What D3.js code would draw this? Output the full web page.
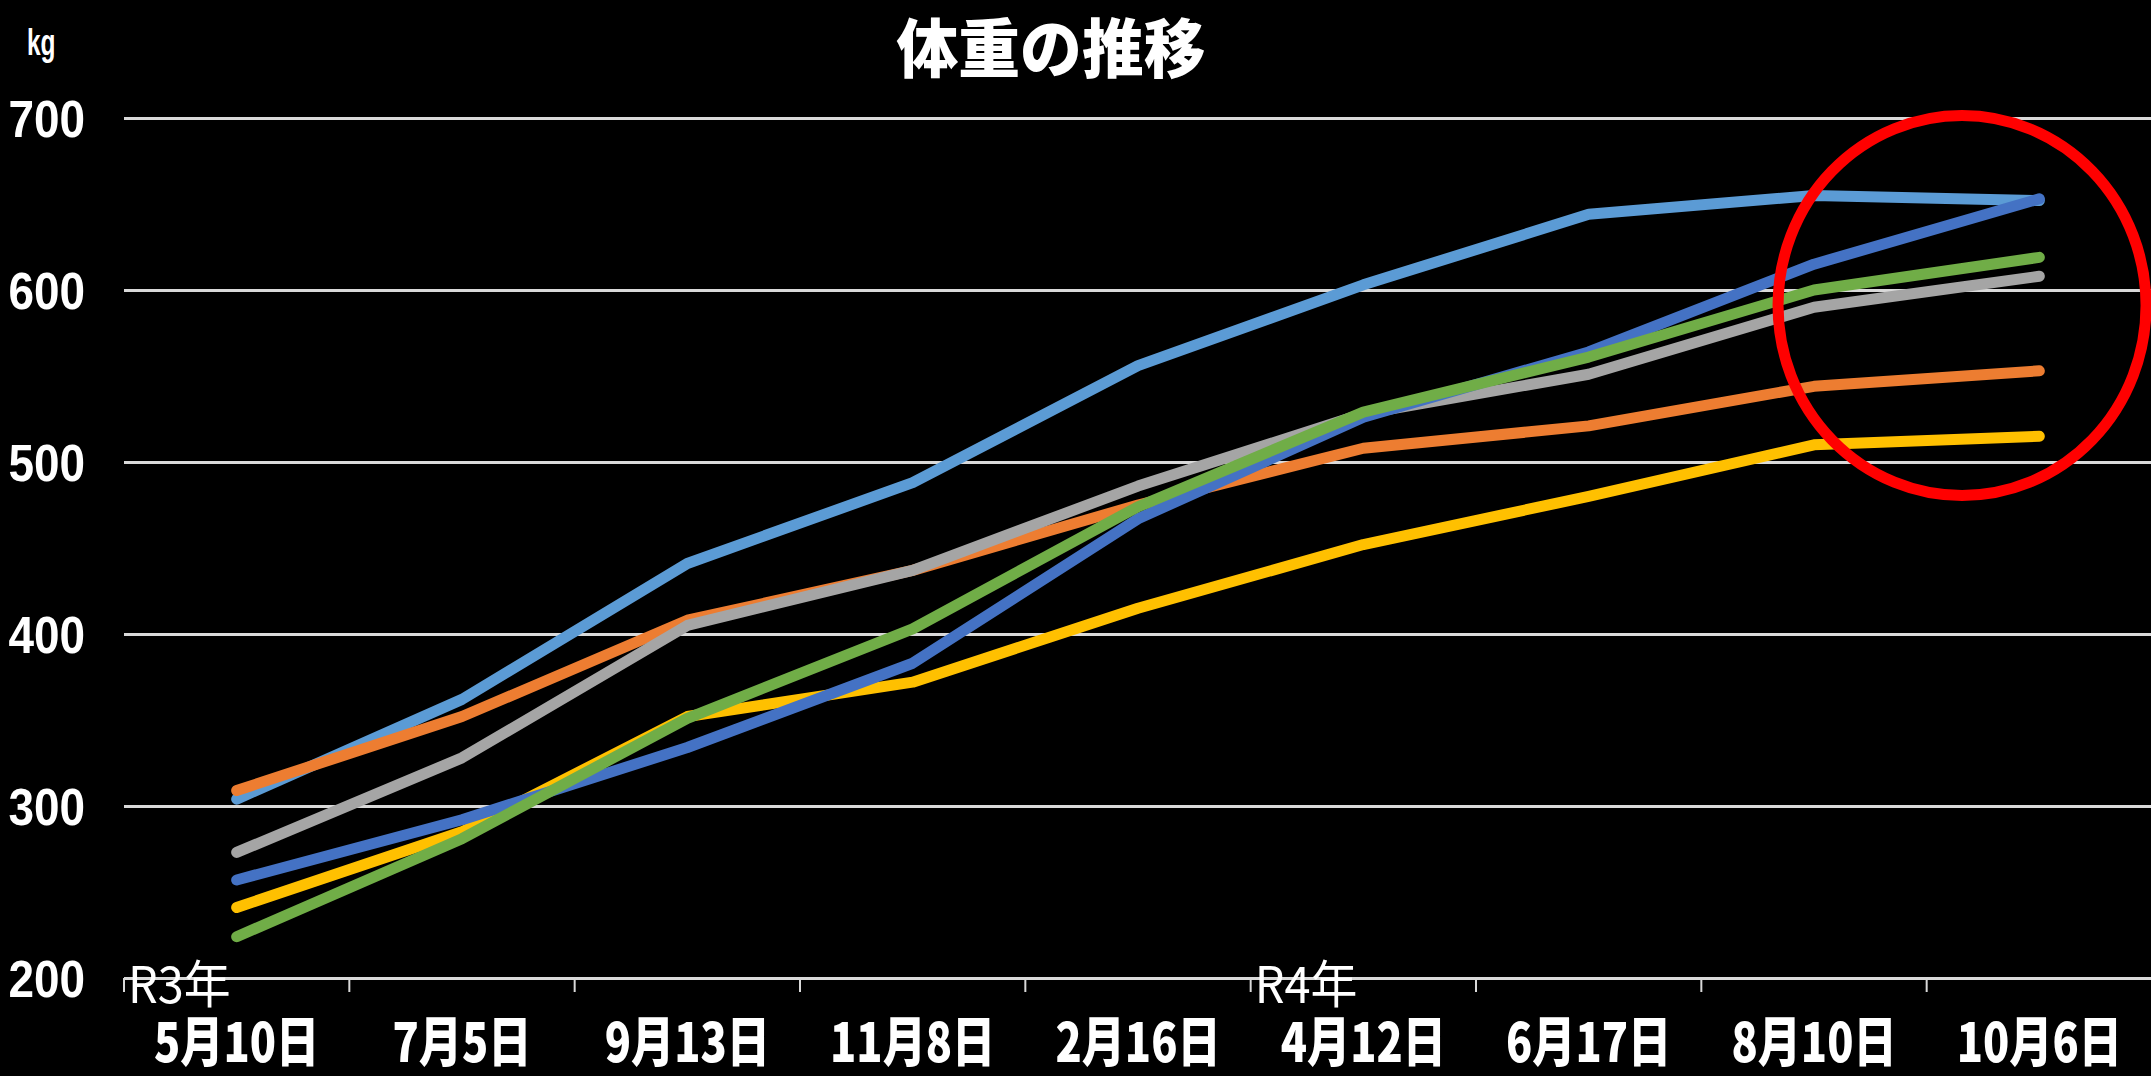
<!DOCTYPE html>
<html>
<head>
<meta charset="utf-8">
<script src="https://cdn.jsdelivr.net/npm/d3@7"></script>
<style>
  html, body { margin: 0; padding: 0; background: #000; }
  svg { display: block; }
</style>
</head>
<body>
<script>
// ---- data ----
const categories = ["5月10日", "7月5日", "9月13日", "11月8日", "2月16日", "4月12日", "6月17日", "8月10日", "10月6日"];
const yTicks = [200, 300, 400, 500, 600, 700];
const seriesLightBlue = [304, 362, 441, 488, 556, 603, 644, 655, 652];
const seriesOrange    = [309, 352, 408, 437, 475, 508, 521, 544, 553];
const seriesGray      = [273, 328, 405, 437, 486, 528, 551, 590, 608];
const seriesYellow    = [241, 285, 352, 372, 415, 452, 480, 510, 515];
const seriesBlue      = [257, 292, 334, 383, 467, 526, 564, 615, 653];
const seriesGreen     = [224, 281, 351, 403, 474, 529, 561, 600, 619];
const seriesList = [
  { name: "lightblue", values: seriesLightBlue, color: "#5B9BD5" },
  { name: "orange",    values: seriesOrange,    color: "#ED7D31" },
  { name: "gray",      values: seriesGray,      color: "#A5A5A5" },
  { name: "yellow",    values: seriesYellow,    color: "#FFC000" },
  { name: "blue",      values: seriesBlue,      color: "#4472C4" },
  { name: "green",     values: seriesGreen,     color: "#70AD47" }
];
const titleText = "体重の推移";
const unitText = "kg";
const yearLabels = [{ text: "R3年", cat: "5月10日" }, { text: "R4年", cat: "4月12日" }];

// ---- layout ----
const W = 2151, H = 1076;
const plotLeft = 124, plotRight = 2152, plotTop = 118, plotBottom = 978;

const svg = d3.select("body").append("svg").attr("width", W).attr("height", H)
  .style("background", "#000");

const x = d3.scaleBand().domain(categories).range([plotLeft, plotRight]).paddingInner(0).paddingOuter(0);
const y = d3.scaleLinear().domain([200, 700]).range([plotBottom, plotTop]);
const cx = d => x(d) + x.bandwidth() / 2;

// grid + y axis labels
const yAxis = d3.axisLeft(y).tickValues(yTicks).tickSize(-(W - plotLeft)).tickPadding(0).tickFormat(d3.format("d"));
const gy = svg.append("g").attr("transform", `translate(${plotLeft},0)`).call(yAxis);
gy.select(".domain").remove();
gy.selectAll(".tick line").attr("stroke", "#d9d9d9").attr("stroke-width", 3);
gy.selectAll(".tick text")
  .attr("fill", "#fff")
  .attr("font-family", "'Liberation Sans Narrow', 'Arial Narrow', sans-serif")
  .attr("font-weight", "bold")
  .attr("font-size", 51)
  .attr("x", 0)
  .attr("dy", "0.36em")
  .attr("text-anchor", "end")
  .attr("transform", "translate(-39,0) scale(0.9,1)");

// x axis: ticks at band boundaries
const boundaries = categories.map(c => x(c)).concat([x(categories[categories.length - 1]) + x.bandwidth()]);
svg.append("g").selectAll("line").data(boundaries).join("line")
  .attr("x1", d => d).attr("x2", d => d)
  .attr("y1", y(200)).attr("y2", y(200) + 14)
  .attr("stroke", "#d9d9d9").attr("stroke-width", 2);

const xAxis = d3.axisBottom(x).tickSize(0).tickPadding(0);
const gx = svg.append("g").attr("transform", `translate(0,${plotBottom})`).call(xAxis);
gx.select(".domain").remove();
gx.selectAll(".tick text")
  .attr("fill", "#fff")
  .attr("font-family", "'Noto Sans CJK JP', sans-serif")
  .attr("font-weight", "900")
  .attr("font-size", 54)
  .attr("y", 0)
  .attr("dy", 0)
  .attr("transform", "translate(0,84) scale(0.8,1)");

// lines
const line = d3.line().x((d, i) => cx(categories[i])).y(d => y(d));
svg.append("g").selectAll("path").data(seriesList).join("path")
  .attr("d", s => line(s.values))
  .attr("fill", "none")
  .attr("stroke", s => s.color)
  .attr("stroke-width", 11)
  .attr("stroke-linecap", "round")
  .attr("stroke-linejoin", "round");

// title
svg.append("text")
  .attr("transform", `translate(1051,72) scale(1.03,1.06)`)
  .attr("text-anchor", "middle")
  .attr("fill", "#fff")
  .attr("font-family", "'Noto Sans CJK JP', sans-serif")
  .attr("font-weight", "900")
  .attr("font-size", 60)
  .text(titleText);

// unit
svg.append("text")
  .attr("transform", "translate(27,55) scale(0.72,1.1)")
  .attr("fill", "#fff")
  .attr("font-family", "'Liberation Sans Narrow', 'Arial Narrow', sans-serif")
  .attr("font-weight", "bold")
  .attr("font-size", 34)
  .text(unitText);

// year labels
svg.append("g").selectAll("text").data(yearLabels).join("text")
  .attr("transform", d => `translate(${x(d.cat) + 4},1003) scale(0.92,1)`)
  .attr("fill", "#fff")
  .attr("font-family", "'Noto Sans CJK JP', sans-serif")
  .attr("font-weight", "normal")
  .attr("font-size", 51)
  .text(d => d.text);

// red ellipse highlight
svg.append("ellipse")
  .attr("cx", cx(categories[7]) + (cx(categories[8]) - cx(categories[7])) * 0.657)
  .attr("cy", y(591))
  .attr("rx", 184).attr("ry", 190)
  .attr("fill", "none")
  .attr("stroke", "#ff0000")
  .attr("stroke-width", 11);
</script>
</body>
</html>
